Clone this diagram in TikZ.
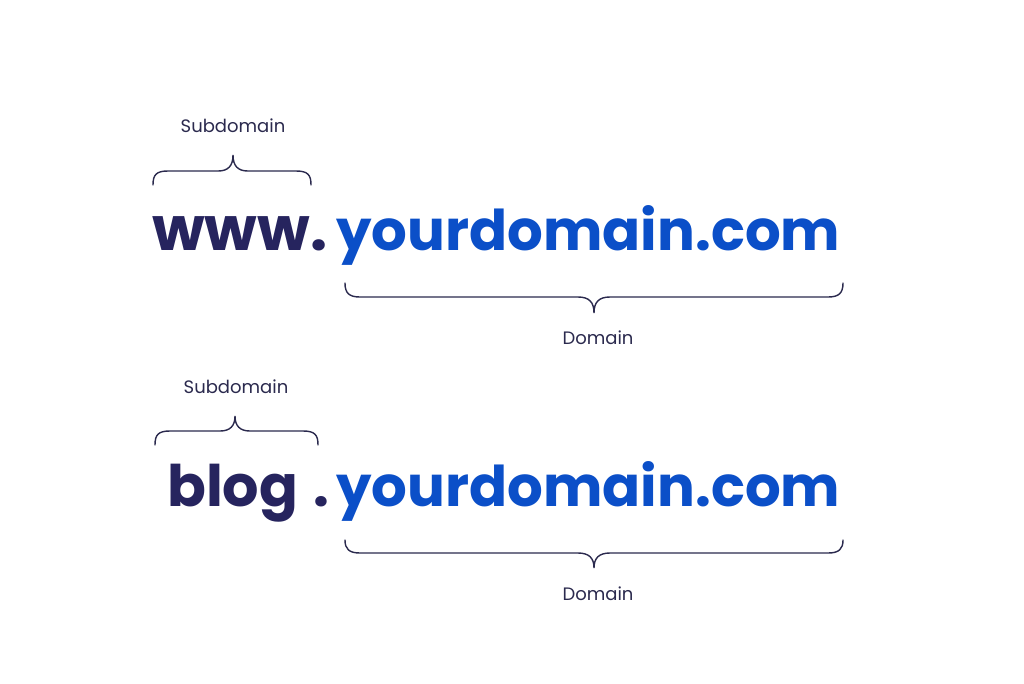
\documentclass[tikz,border=0pt]{standalone}
\usepackage{fontspec}
\setmainfont{Poppins}
\usepackage{graphicx}
\definecolor{navy}{HTML}{26245E}
\definecolor{bluedom}{HTML}{0B4FC8}
\definecolor{brace}{HTML}{2B2A4E}
\begin{document}
\begin{tikzpicture}[x=1pt,y=-1pt,
  lbl/.style={font=\fontsize{18}{20}\selectfont, text=brace, inner sep=0pt, anchor=base},
  big/.style={inner sep=0pt, anchor=base west, font=\bfseries},
  brc/.style={draw=brace, line width=1.4pt, line cap=round}]
\useasboundingbox[fill=white] (0,0) rectangle (1024,683);
% ---- row 1
\node[lbl] (sub1) at (233,132) {Subdomain};
\node[big, text=navy] (www) at (152,250) {\resizebox{175pt}{!}{www.}};
\node[big, text=bluedom] (dom1) at (336,250) {\resizebox{504pt}{!}{yourdomain.com}};
\draw[brc] (153,185) .. controls (153,175) and (156,171) .. (168,171) -- (218,171)
  .. controls (228,171) and (233,166) .. (233,155)
  .. controls (233,166) and (238,171) .. (248,171) -- (296,171)
  .. controls (308,171) and (311,175) .. (311,185);
\draw[brc] (345,283) .. controls (345,293) and (349,297) .. (360,297) -- (578,297)
  .. controls (589,297) and (594,302) .. (594,313)
  .. controls (594,302) and (599,297) .. (610,297) -- (828,297)
  .. controls (839,297) and (843,293) .. (843,283);
\node[lbl] (d1) at (598,344) {Domain};
% ---- row 2
\node[lbl] (sub2) at (236,393) {Subdomain};
\node[big, text=navy] (blog) at (167,506) {\resizebox{131pt}{!}{blog}};
\node[big, text=navy] (dot2) at (313,506) {\resizebox{!}{10pt}{.}};
\node[big, text=bluedom] (dom2) at (336,506) {\resizebox{504pt}{!}{yourdomain.com}};
\draw[brc] (155,445) .. controls (155,435) and (158,431) .. (170,431) -- (220,431)
  .. controls (230,431) and (235,426) .. (235,416)
  .. controls (235,426) and (240,431) .. (250,431) -- (303,431)
  .. controls (315,431) and (318,435) .. (318,445);
\draw[brc] (345,540) .. controls (345,549) and (349,553) .. (360,553) -- (578,553)
  .. controls (589,553) and (594,558) .. (594,568)
  .. controls (594,558) and (599,553) .. (610,553) -- (828,553)
  .. controls (839,553) and (843,549) .. (843,540);
\node[lbl] (d2) at (598,600) {Domain};
\end{tikzpicture}
\end{document}
